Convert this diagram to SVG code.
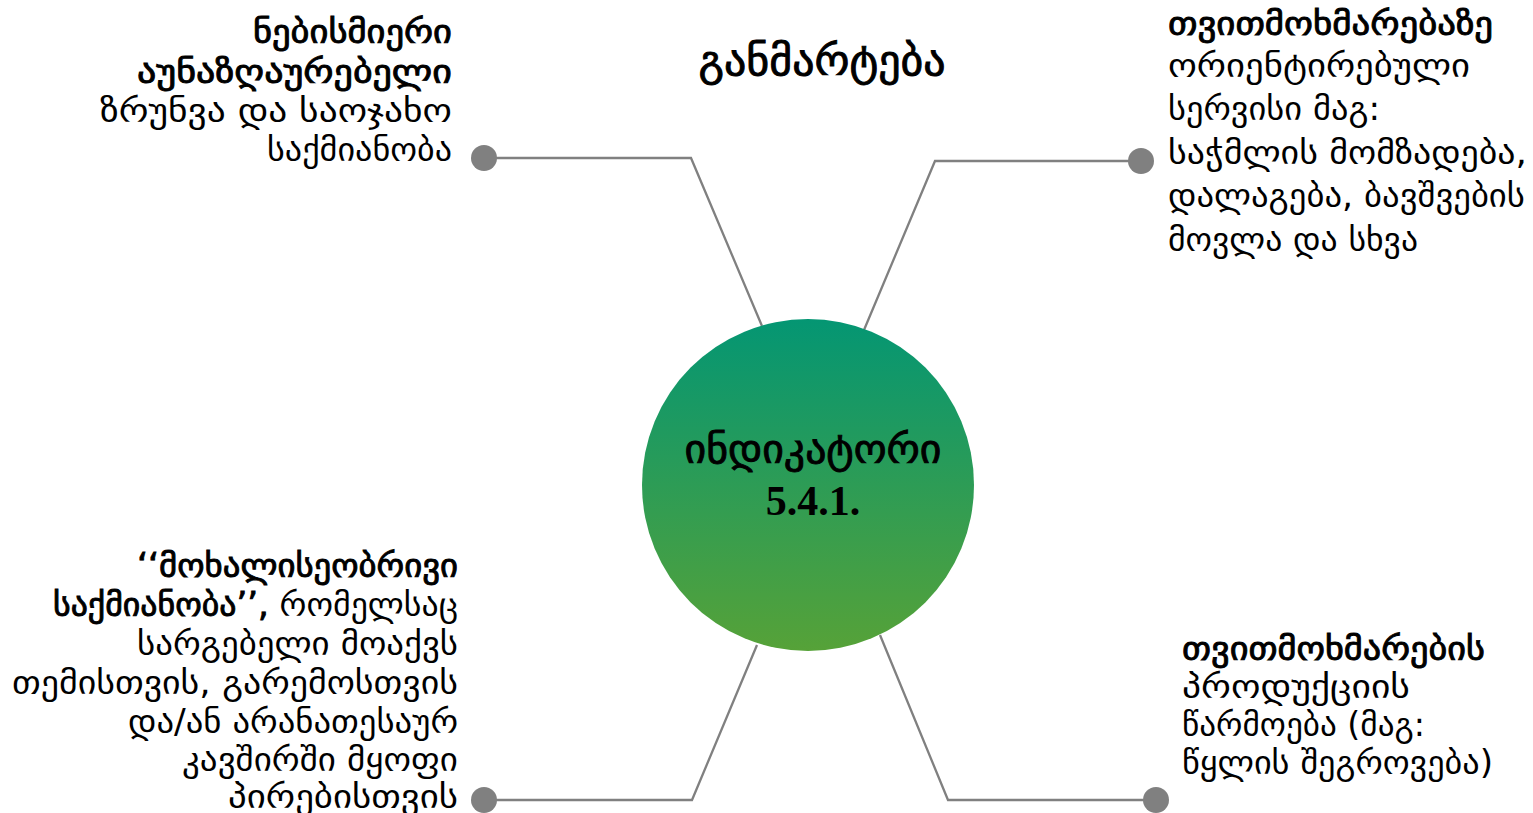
<svg xmlns="http://www.w3.org/2000/svg" width="1533" height="813" viewBox="0 0 1533 813">
<defs>
<linearGradient id="g" x1="0" y1="0" x2="0" y2="1">
<stop offset="0" stop-color="#049673"/>
<stop offset="1" stop-color="#56a238"/>
</linearGradient>
<style>
text{font-family:"DejaVu Sans","Noto Sans",sans-serif;font-size:33px;fill:#000}
.b{stroke:#000;stroke-width:0.9px}
.r{text-anchor:end}
.c{text-anchor:middle}
.ln{fill:none;stroke:#808080;stroke-width:2.3}
.dot{fill:#808080}
</style>
</defs>
<rect width="1533" height="813" fill="#fff"/>
<g id="connectors">
<polyline class="ln" points="484,158 691,158 762,326"/>
<polyline class="ln" points="1141,161 935,161 864,330"/>
<polyline class="ln" points="484,800 692,800 757,645"/>
<polyline class="ln" points="1156,800 948,800 880,635"/>
<circle class="dot" cx="484" cy="158" r="13"/>
<circle class="dot" cx="1141" cy="161" r="13"/>
<circle class="dot" cx="484" cy="800" r="13"/>
<circle class="dot" cx="1156" cy="800" r="13"/>
</g>
<g id="title">
<text class="c b" x="822" y="75" style="font-size:42px" textLength="247" lengthAdjust="spacingAndGlyphs">განმარტება</text>
</g>
<g id="center">
<circle cx="808" cy="485" r="166" fill="url(#g)"/>
<text class="c b" x="813" y="463" style="font-size:40px" textLength="257" lengthAdjust="spacingAndGlyphs">ინდიკატორი</text>
<text class="c" x="813" y="515" style="font-size:42px;font-family:'Liberation Serif',serif;font-weight:bold">5.4.1.</text>
</g>
<g id="node-tl">
<text class="r b" x="452" y="43" textLength="199" lengthAdjust="spacingAndGlyphs">ნებისმიერი</text>
<text class="r b" x="452" y="83" textLength="315" lengthAdjust="spacingAndGlyphs">აუნაზღაურებელი</text>
<text class="r" x="452" y="122" textLength="352" lengthAdjust="spacingAndGlyphs">ზრუნვა და საოჯახო</text>
<text class="r" x="452" y="161" textLength="185" lengthAdjust="spacingAndGlyphs">საქმიანობა</text>
</g>
<g id="node-tr">
<text class="b" x="1168" y="35" textLength="325" lengthAdjust="spacingAndGlyphs">თვითმოხმარებაზე</text>
<text x="1168" y="77" textLength="302" lengthAdjust="spacingAndGlyphs">ორიენტირებული</text>
<text x="1168" y="120" textLength="212" lengthAdjust="spacingAndGlyphs">სერვისი მაგ:</text>
<text x="1168" y="164" textLength="359" lengthAdjust="spacingAndGlyphs">საჭმლის მომზადება,</text>
<text x="1168" y="207" textLength="357" lengthAdjust="spacingAndGlyphs">დალაგება, ბავშვების</text>
<text x="1168" y="251" textLength="250" lengthAdjust="spacingAndGlyphs">მოვლა და სხვა</text>
</g>
<g id="node-bl">
<text class="r b" x="458" y="577" textLength="321" lengthAdjust="spacingAndGlyphs">‘‘მოხალისეობრივი</text>
<text class="r" x="458" y="616" textLength="405" lengthAdjust="spacingAndGlyphs"><tspan class="b">საქმიანობა’’,</tspan> რომელსაც</text>
<text class="r" x="458" y="655" textLength="321" lengthAdjust="spacingAndGlyphs">სარგებელი მოაქვს</text>
<text class="r" x="458" y="694" textLength="446" lengthAdjust="spacingAndGlyphs">თემისთვის, გარემოსთვის</text>
<text class="r" x="458" y="733" textLength="330" lengthAdjust="spacingAndGlyphs">და/ან არანათესაურ</text>
<text class="r" x="458" y="771" textLength="276" lengthAdjust="spacingAndGlyphs">კავშირში მყოფი</text>
<text class="r" x="458" y="808" textLength="230" lengthAdjust="spacingAndGlyphs">პირებისთვის</text>
</g>
<g id="node-br">
<text class="b" x="1182" y="660" textLength="303" lengthAdjust="spacingAndGlyphs">თვითმოხმარების</text>
<text x="1182" y="698" textLength="228" lengthAdjust="spacingAndGlyphs">პროდუქციის</text>
<text x="1182" y="736" textLength="243" lengthAdjust="spacingAndGlyphs">წარმოება (მაგ:</text>
<text x="1182" y="774" textLength="311" lengthAdjust="spacingAndGlyphs">წყლის შეგროვება)</text>
</g>
</svg>
